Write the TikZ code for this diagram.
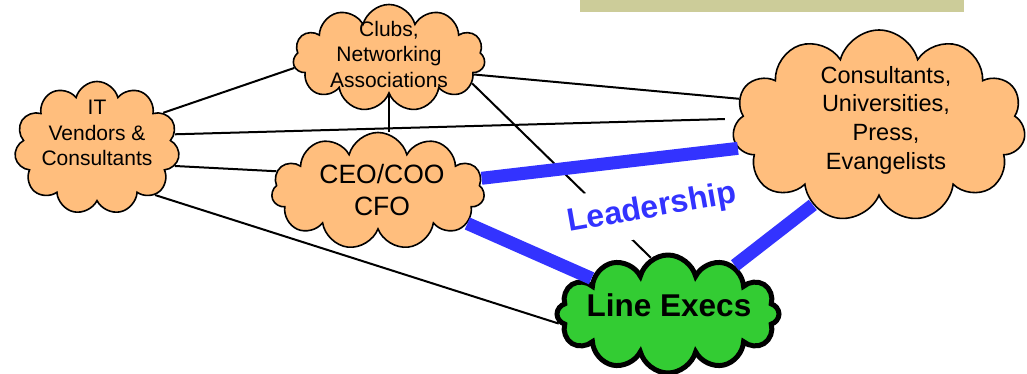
\documentclass[tikz,border=0pt]{standalone}
\usepackage{fontspec}
\setmainfont{Liberation Sans}
\usepackage{tikz}
\usetikzlibrary{shapes.symbols}
\definecolor{peach}{RGB}{255,190,125}
\definecolor{limegreen}{RGB}{51,204,51}
\definecolor{leadblue}{RGB}{51,51,255}
\definecolor{khaki}{RGB}{204,204,153}

\begin{document}
\begin{tikzpicture}[x=1pt,y=-1pt,
	peachcloud/.style={cloud,cloud puffs=11,cloud ignores aspect,draw=black,line width=1.6pt,fill=peach,inner sep=0pt},
	execcloud/.style={cloud,cloud puffs=12,cloud ignores aspect,draw=black,line width=5pt,fill=limegreen,inner sep=0pt},
	cloudtext/.style={align=center,inner sep=0pt},
	tie/.style={line width=2pt,black},
	lead/.style={line width=13pt,leadblue}]
		\useasboundingbox (0,0) rectangle (1027,373);
		\clip (0,0) rectangle (1027,373);
		\fill[khaki] (580,-5) rectangle (964,12);

		\node[peachcloud,minimum width=165pt,minimum height=133pt] (it) at (97,148) {};
		\node[peachcloud,minimum width=192pt,minimum height=107pt] (clubs) at (389,58) {};
		\node[peachcloud,minimum width=213pt,minimum height=117pt] (ceo) at (378,191) {};
		\node[peachcloud,minimum width=293pt,minimum height=192pt] (cons) at (879,126) {};
		\node[execcloud,minimum width=222pt,minimum height=118pt] (line) at (668,314) {};

		\node[cloudtext,font=\fontsize{21}{25.5}\selectfont] (ittext) at (97,133) {IT\\Vendors \&\\Consultants};
		\node[cloudtext,font=\fontsize{21}{25.5}\selectfont] (clubstext) at (389,54) {Clubs,\\Networking\\Associations};
		\node[cloudtext,font=\fontsize{26.5}{32}\selectfont] (ceotext) at (382,190) {CEO/COO\\CFO};
		\node[cloudtext,font=\fontsize{23.5}{28.7}\selectfont] (constext) at (886,120) {Consultants,\\Universities,\\Press,\\Evangelists};
		\node[cloudtext,font=\fontsize{31.5}{36}\selectfont\bfseries] (linetext) at (669,305) {Line Execs};

		\draw[tie] (it.28) -- (clubs.186);
		\draw[tie,shorten >=14pt] (it.10) -- (cons.177);
		\draw[tie] (it.-13) -- (ceo.169);
		\draw[tie] (it.-39) -- (line.185);
		\draw[tie] (clubs.-11) -- (cons.169);
		\draw[tie] (clubs.-17) -- (line.107);
		\draw[tie] (clubs.south) -- (clubs.south |- ceo.north);

		\draw[lead] (ceo.7) -- (cons.189);
		\draw[lead] (ceo.-20) -- (line.155);
		\draw[lead] (cons.230) -- (line.36);

		\node[fill=white,rotate=10,minimum width=212pt,minimum height=54pt,inner sep=0pt,text=leadblue,font=\fontsize{32}{36}\selectfont\bfseries] (leadership) at (652,209) {Leadership};
	\end{tikzpicture}
\end{document}
